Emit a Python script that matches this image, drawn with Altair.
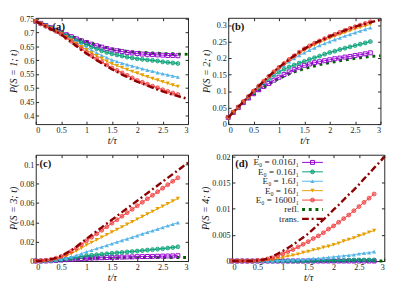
import altair as alt
import pandas as pd

# time grids (t / tau)
T_MARK = [0.0, 0.1, 0.2, 0.3, 0.4, 0.5, 0.6, 0.7, 0.8, 0.9, 1.0, 1.1, 1.2, 1.3, 1.4,
          1.5, 1.6, 1.7, 1.8, 1.9, 2.0, 2.1, 2.2, 2.3, 2.4, 2.5, 2.6, 2.7, 2.8]
T_LINE = [0.0, 0.1, 0.2, 0.3, 0.4, 0.5, 0.6, 0.7, 0.8, 0.9, 1.0, 1.1, 1.2, 1.3, 1.4,
          1.5, 1.6, 1.7, 1.8, 1.9, 2.0, 2.1, 2.2, 2.3, 2.4, 2.5, 2.6, 2.7, 2.8, 2.9, 3.0]
X_TICKS = [0, 0.5, 1, 1.5, 2, 2.5, 3]

SERIES = ["E₀ = 0.016J₁", "E₀ = 0.16J₁", "E₀ = 1.6J₁", "E₀ = 16J₁", "E₀ = 1600J₁"]
COLORS = ["#9400d3", "#009e73", "#56b4e9", "#e69f00", "#f03c3c"]
SHAPES = ["square", "circle", "triangle-up", "triangle-down", "circle"]

# ---- panel (a): P(S=1;t)
A_S1 = [.740, .733, .725, .717, .708, .700, .692, .685, .677, .670, .664, .658, .652, .647, .642,
        .637, .634, .631, .628, .626, .624, .622, .621, .620, .619, .618, .617, .617, .616]
A_S2 = [.740, .733, .725, .716, .707, .699, .690, .681, .672, .664, .656, .648, .641, .634, .628,
        .623, .619, .615, .611, .608, .605, .603, .601, .599, .597, .594, .592, .590, .588]
A_S3 = [.740, .732, .724, .715, .706, .697, .686, .676, .665, .655, .645, .636, .626, .617, .609,
        .601, .595, .589, .584, .579, .574, .569, .564, .560, .555, .551, .547, .543, .539]
A_S4 = [.740, .732, .723, .714, .705, .696, .684, .672, .660, .648, .637, .626, .616, .606, .596,
        .587, .580, .573, .566, .559, .553, .546, .540, .534, .528, .522, .516, .510, .505]
A_S5 = [.740, .731, .722, .713, .704, .694, .681, .668, .655, .641, .628, .617, .605, .594, .583,
        .572, .563, .554, .545, .536, .527, .520, .513, .506, .500, .493, .487, .481, .476]
A_TR = [.740, .731, .722, .712, .703, .693, .679, .665, .651, .637, .624, .612, .600, .589, .578,
        .567, .558, .548, .539, .530, .522, .515, .508, .501, .494, .487, .481, .475, .470, .465, .460]
A_RF = [.740, .733, .726, .718, .709, .701, .694, .687, .680, .673, .667, .661, .655, .650, .645,
        .641, .638, .635, .632, .630, .629, .628, .627, .626, .625, .624, .623, .623, .622, .622, .621]

# ---- panel (b): P(S=2;t)
B_S1 = [.020, .035, .050, .065, .079, .092, .104, .114, .123, .133, .142, .150, .158, .165, .172,
        .178, .182, .186, .189, .192, .195, .198, .200, .203, .205, .208, .210, .213, .216]
B_S2 = [.020, .036, .051, .067, .082, .097, .111, .124, .137, .148, .158, .166, .173, .179, .185,
        .190, .196, .201, .206, .212, .217, .221, .226, .230, .234, .238, .242, .246, .250]
B_S3 = [.020, .036, .052, .067, .083, .098, .113, .127, .141, .154, .167, .178, .189, .199, .208,
        .216, .224, .231, .238, .244, .250, .256, .261, .267, .272, .277, .282, .287, .292]
B_S4 = [.020, .036, .052, .068, .083, .099, .114, .129, .143, .157, .170, .182, .193, .204, .214,
        .224, .232, .240, .247, .254, .260, .266, .272, .277, .283, .288, .293, .297, .302]
B_S5 = [.020, .036, .052, .068, .084, .100, .115, .130, .145, .159, .172, .184, .196, .207, .218,
        .228, .237, .245, .252, .259, .266, .272, .278, .284, .290, .295, .300, .305, .310]
B_TR = [.020, .036, .052, .068, .084, .100, .115, .130, .145, .159, .172, .184, .196, .207, .218,
        .228, .237, .245, .252, .259, .266, .272, .278, .284, .290, .295, .300, .304, .308, .312, .316]
B_RF = [.020, .035, .050, .064, .078, .091, .102, .112, .121, .130, .138, .145, .152, .158, .163,
        .168, .172, .176, .180, .183, .186, .189, .192, .194, .197, .199, .201, .203, .205, .206, .207]

# ---- panel (c): P(S=3;t)
C_S1 = [0, 0, .0001, .0003, .0006, .0010, .0014, .0018, .0022, .0025, .0028, .0030, .0032, .0034, .0036,
        .0038, .0039, .0041, .0042, .0043, .0045, .0046, .0047, .0048, .0049, .0051, .0052, .0053, .0055]
C_S2 = [0, 0, .0001, .0004, .0008, .0014, .0021, .0029, .0037, .0046, .0055, .0060, .0065, .0070, .0075,
        .0080, .0085, .0089, .0094, .0098, .0103, .0108, .0113, .0118, .0123, .0128, .0134, .0140, .0147]
C_S3 = [0, 0, .0002, .0006, .0012, .0020, .0030, .0043, .0058, .0076, .0095, .0112, .0129, .0145, .0162,
        .0179, .0196, .0213, .0229, .0246, .0263, .0280, .0297, .0313, .0330, .0347, .0364, .0380, .0397]
C_S4 = [0, .0001, .0005, .0012, .0023, .0037, .0055, .0077, .0103, .0133, .0165, .0192, .0219, .0245, .0272,
        .0299, .0325, .0352, .0379, .0405, .0432, .0459, .0485, .0512, .0539, .0565, .0592, .0619, .0645]
C_S5 = [0, .0002, .0007, .0016, .0030, .0048, .0071, .0100, .0133, .0170, .0210, .0246, .0282, .0318, .0354,
        .0391, .0427, .0463, .0499, .0535, .0571, .0607, .0643, .0679, .0715, .0752, .0788, .0824, .0860]
C_TR = [0, .0002, .0008, .0018, .0033, .0052, .0080, .0112, .0148, .0189, .0230, .0269, .0309, .0348, .0387,
        .0427, .0466, .0505, .0544, .0584, .0623, .0662, .0702, .0741, .0780, .0820, .0859, .0898, .0937,
        .0977, .1016]
C_RF = [0, 0, .0001, .0003, .0006, .0010, .0014, .0018, .0021, .0023, .0025, .0027, .0029, .0030, .0031,
        .0032, .0033, .0034, .0034, .0035, .0035, .0035, .0036, .0036, .0036, .0036, .0036, .0037, .0037,
        .0037, .0037]

# ---- panel (d): P(S=4;t)
D_S1 = [0, 0, 0, 0, 0, 0, 0, 0, 0, 0, 0, 0, 0, 0, 0,
        0, 0, 0, 0, 0, 0, 0, 0, 0, 0, 0, 0, 0, 0]
D_S2 = [0, 0, 0, 0, 0, 0, 0, 0, 0, 0, 0, 0, 0, 0, 0,
        0, 0, .0001, .0001, .0001, .0001, .0001, .0001, .0002, .0002, .0002, .0002, .0002, .0002]
D_S3 = [0, 0, 0, 0, 0, 0, 0, 0, 0, .0001, .0001, .0002, .0002, .0003, .0003,
        .0004, .0005, .0005, .0006, .0007, .0008, .0009, .0010, .0011, .0012, .0014, .0015, .0016, .0018]
D_S4 = [0, 0, 0, 0, 0, 0, .0001, .0002, .0003, .0005, .0007, .0009, .0011, .0013, .0016,
        .0018, .0021, .0023, .0026, .0028, .0031, .0034, .0038, .0041, .0044, .0048, .0051, .0055, .0058]
D_S5 = [0, 0, 0, 0, 0, .0001, .0002, .0004, .0006, .0010, .0014, .0018, .0022, .0027, .0032,
        .0037, .0043, .0048, .0054, .0061, .0067, .0074, .0081, .0088, .0096, .0104, .0112, .0120, .0128]
D_TR = [0, 0, 0, 0, 0, .0001, .0002, .0005, .0009, .0014, .0019, .0025, .0031, .0038, .0045,
        .0052, .0061, .0070, .0079, .0088, .0098, .0107, .0117, .0127, .0136, .0146, .0157, .0167, .0178,
        .0188, .0199]
D_RF = [0, 0, 0, 0, 0, 0, 0, 0, 0, 0, 0, 0, 0, 0, 0,
        0, 0, 0, 0, 0, 0, 0, 0, 0, 0, 0, 0, 0, 0, 0, 0]

Y_TICKS_A = [0.4, 0.45, 0.5, 0.55, 0.6, 0.65, 0.7, 0.75]
Y_TICKS_B = [0, 0.05, 0.1, 0.15, 0.2, 0.25, 0.3]
Y_TICKS_C = [0, 0.02, 0.04, 0.06, 0.08, 0.1]
Y_TICKS_D = [0, 0.005, 0.01, 0.015, 0.02]

LEGEND_LABELS = SERIES + ["refl.", "trans."]

FONT = "Liberation Serif"
W, H = 159, 111
REFL_COLOR = "#006400"
TRANS_COLOR = "#8b0000"

# legend key geometry in t-units of panel (d)
LEG_TEXT_T = 1.32
LEG_LINE_T0 = 1.38
LEG_LINE_T1 = 1.79
LEG_MARK_T = 1.585


def point_mark(i):
    if i == 0:
        return dict(shape=SHAPES[i], filled=False, color=COLORS[i], strokeWidth=1, size=17, opacity=1)
    if i in (1, 4):
        return dict(shape=SHAPES[i], filled=True, color=COLORS[i], fillOpacity=0.55, stroke=COLORS[i],
                    strokeWidth=0.8, size=17, opacity=1)
    return dict(shape=SHAPES[i], filled=True, color=COLORS[i], size=19, opacity=1)


def make_panel(series, trans, refl, ytitle, ydomain, yticks, label, lx, legend=False):
    rows = []
    for name, vals in zip(SERIES, series):
        for t, v in zip(T_MARK, vals):
            rows.append({"t": t, "v": v, "series": name})
    df = pd.DataFrame(rows)
    ldf = pd.DataFrame({"t": T_LINE, "trans": trans, "refl": refl})

    xscale = alt.Scale(domain=[0, 3], nice=False, zero=False)
    yscale = alt.Scale(domain=ydomain, nice=False, zero=False)
    xenc = alt.X("t:Q", scale=xscale,
                 axis=alt.Axis(values=X_TICKS, format="~g", title="t/τ", titleFontStyle="italic",
                               offset=-3, tickSize=3, labelPadding=2, titlePadding=2))

    def yenc(field):
        return alt.Y(field, scale=yscale,
                     axis=alt.Axis(values=yticks, format="~g", title=ytitle, titleFontStyle="italic",
                                   offset=-3, tickSize=3, labelPadding=2, titlePadding=1))

    layers = []
    layers.append(alt.Chart(ldf).mark_line(color=REFL_COLOR, strokeWidth=3, strokeDash=[3, 4])
                  .encode(x=xenc, y=yenc("refl:Q")))
    for i, name in enumerate(SERIES):
        sub = df[df["series"] == name]
        base = alt.Chart(sub)
        layers.append(base.mark_line(color=COLORS[i], strokeWidth=1).encode(x=xenc, y=yenc("v:Q")))
        layers.append(base.mark_point(**point_mark(i)).encode(x=xenc, y=yenc("v:Q")))
    layers.append(alt.Chart(ldf).mark_line(color=TRANS_COLOR, strokeWidth=2.5, strokeDash=[7, 3, 2, 3])
                  .encode(x=xenc, y=yenc("trans:Q")))
    main = alt.layer(*layers)

    # mirrored (top / right) inward ticks, no labels
    mirror = alt.Chart(ldf).mark_point(opacity=0).encode(
        x=alt.X("t:Q", scale=xscale, axis=alt.Axis(orient="top", values=X_TICKS, labels=False, title=None,
                                                    offset=-3, tickSize=3)),
        y=alt.Y("trans:Q", scale=yscale, axis=alt.Axis(orient="right", values=yticks, labels=False,
                                                        title=None, offset=-3, tickSize=3)),
    )
    data_layer = alt.layer(main, mirror).resolve_axis(x="independent", y="independent")

    over = [alt.Chart(pd.DataFrame({"lab": [label]})).mark_text(
        font=FONT, fontSize=11, fontWeight="bold", align="center", baseline="middle", color="#111"
    ).encode(x=alt.value(lx), y=alt.value(10), text="lab:N")]

    if legend:
        leg = pd.DataFrame({"label": LEGEND_LABELS, "row": list(range(len(LEGEND_LABELS))),
                            "tt": LEG_TEXT_T, "t0": LEG_LINE_T0, "t1": LEG_LINE_T1, "tm": LEG_MARK_T})
        ly = alt.Y("row:O", scale=alt.Scale(type="point", domain=list(range(len(LEGEND_LABELS))),
                                            range=[8, 67], padding=0), axis=None)
        lx_text = alt.X("tt:Q", scale=xscale, axis=None)
        lx0 = alt.X("t0:Q", scale=xscale, axis=None)
        lx1 = alt.X2("t1:Q")
        lxm = alt.X("tm:Q", scale=xscale, axis=None)
        lbase = alt.Chart(leg)
        over.append(lbase.mark_text(align="right", baseline="middle", font=FONT, fontSize=9.5, color="#222")
                    .encode(x=lx_text, y=ly, text="label:N"))
        for i in range(len(SERIES)):
            sb = lbase.transform_filter(alt.datum.row == i)
            over.append(sb.mark_rule(color=COLORS[i], strokeWidth=1).encode(x=lx0, x2=lx1, y=ly))
            over.append(sb.mark_point(**point_mark(i)).encode(x=lxm, y=ly))
        over.append(lbase.transform_filter(alt.datum.row == 5)
                    .mark_rule(color=REFL_COLOR, strokeWidth=3, strokeDash=[3, 4])
                    .encode(x=lx0, x2=lx1, y=ly))
        over.append(lbase.transform_filter(alt.datum.row == 6)
                    .mark_rule(color=TRANS_COLOR, strokeWidth=2.5, strokeDash=[7, 3, 2, 3])
                    .encode(x=lx0, x2=lx1, y=ly))
    over_layer = alt.layer(*over)
    return alt.layer(data_layer, over_layer).resolve_scale(y="independent").properties(width=W, height=H)


pa = make_panel([A_S1, A_S2, A_S3, A_S4, A_S5], A_TR, A_RF, "P(S = 1; t)", [0.369, 0.753], Y_TICKS_A, "(a)", 24)
pb = make_panel([B_S1, B_S2, B_S3, B_S4, B_S5], B_TR, B_RF, "P(S = 2; t)", [0, 0.322], Y_TICKS_B, "(b)", 10)
pc = make_panel([C_S1, C_S2, C_S3, C_S4, C_S5], C_TR, C_RF, "P(S = 3; t)", [0, 0.1098], Y_TICKS_C, "(c)", 10)
pd_ = make_panel([D_S1, D_S2, D_S3, D_S4, D_S5], D_TR, D_RF, "P(S = 4; t)", [0, 0.0203], Y_TICKS_D, "(d)", 10,
                 legend=True)

row1 = alt.hconcat(pa, pb, spacing=6)
row2 = alt.hconcat(pc, pd_, spacing=6)
chart = alt.vconcat(row1, row2, spacing=4).properties(
    padding={"left": 0, "top": 0, "right": 0, "bottom": 0}
).configure_view(
    stroke="#222", strokeWidth=1
).configure_axis(
    labelFont=FONT, titleFont=FONT, labelFontSize=8.5, titleFontSize=10.5,
    labelColor="#222", titleColor="#111", tickColor="#222", grid=False, domain=False,
    titleFontWeight="normal"
)

chart.save("out.html", embed_options={"renderer": "svg", "actions": False})
